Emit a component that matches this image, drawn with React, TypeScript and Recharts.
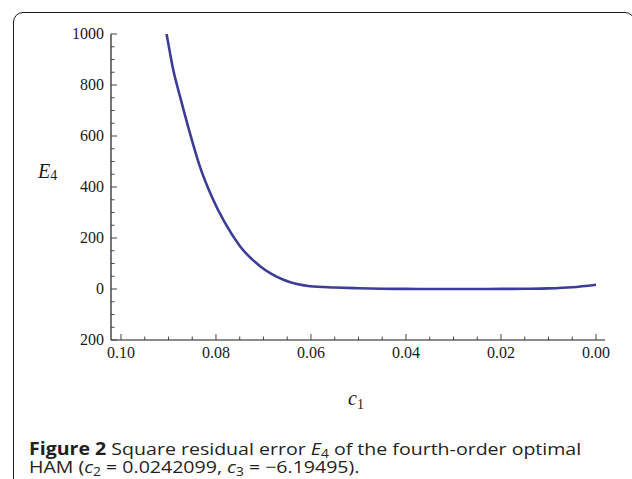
import React from 'react';
import { LineChart, Line, XAxis, YAxis } from 'recharts';

// c1 values (the picture's axis shows them without minus signs)
const c1Values = [-0.0925, -0.0904, -0.0897, -0.089, -0.0881, -0.0872, -0.0855, -0.0834, -0.0809, -0.0781, -0.0749, -0.0707, -0.0658, -0.0602, -0.055, -0.05, -0.045, -0.04, -0.035, -0.03, -0.025, -0.02, -0.015, -0.01, -0.005, 0.0];
const e4Values = [1230, 1000, 928, 860, 792, 729, 612, 481, 363, 259, 167, 89, 36, 11, 6, 3, 1, 0.3, 0, 0, 0, 0.3, 1, 2.5, 7, 17];

const xMajorTicks = [-0.1, -0.08, -0.06, -0.04, -0.02, 0.0];
const xTickLabels = ['0.10', '0.08', '0.06', '0.04', '0.02', '0.00'];
const xMinorTicks = [-0.1, -0.095, -0.09, -0.085, -0.08, -0.075, -0.07, -0.065, -0.06, -0.055, -0.05, -0.045, -0.04, -0.035, -0.03, -0.025, -0.02, -0.015, -0.01, -0.005, 0.0];

const yMajorTicks = [-200, 0, 200, 400, 600, 800, 1000];
const yTickLabels = ['200', '0', '200', '400', '600', '800', '1000'];
const yMinorTicks = [-200, -150, -100, -50, 0, 50, 100, 150, 200, 250, 300, 350, 400, 450, 500, 550, 600, 650, 700, 750, 800, 850, 900, 950, 1000];

const data = c1Values.map((c, i) => ({ c1: c, e4: e4Values[i] }));

const X_DOMAIN: [number, number] = [-0.1021, 0.0019];
const Y_DOMAIN: [number, number] = [-200, 1000];

const MAJOR = 6;
const MINOR = 3.5;
const TICK_COLOR = '#444';
const FRAME_COLOR = '#1a1a1a';
const FONT = '"Liberation Serif", "Times New Roman", serif';

const majorIndex = (list: number[], v: number) => list.findIndex((t) => Math.abs(t - v) < 1e-9);

const BottomTick = (props: any) => {
  const { x, y, payload } = props;
  const idx = majorIndex(xMajorTicks, payload.value);
  const len = idx >= 0 ? MAJOR : MINOR;
  return (
    <g>
      <line x1={x} x2={x} y1={y} y2={y - len} stroke={TICK_COLOR} strokeWidth={1} />
      {idx >= 0 && (
        <text x={x} y={y + 18} textAnchor="middle" fontFamily={FONT} fontSize={16} fill="#1a1a1a">
          {xTickLabels[idx]}
        </text>
      )}
    </g>
  );
};

const TopTick = (props: any) => {
  const { x, y, payload } = props;
  const idx = majorIndex(xMajorTicks, payload.value);
  const len = idx >= 0 ? MAJOR : MINOR;
  return <line x1={x} x2={x} y1={y} y2={y + len} stroke={TICK_COLOR} strokeWidth={1} />;
};

const LeftTick = (props: any) => {
  const { x, y, payload } = props;
  const idx = majorIndex(yMajorTicks, payload.value);
  const len = idx >= 0 ? MAJOR : MINOR;
  return (
    <g>
      <line x1={x} x2={x + len} y1={y} y2={y} stroke={TICK_COLOR} strokeWidth={1} />
      {idx >= 0 && (
        <text x={x - 7} y={y + 5} textAnchor="end" fontFamily={FONT} fontSize={16} fill="#1a1a1a">
          {yTickLabels[idx]}
        </text>
      )}
    </g>
  );
};

const RightTick = (props: any) => {
  const { x, y, payload } = props;
  const idx = majorIndex(yMajorTicks, payload.value);
  const len = idx >= 0 ? MAJOR : MINOR;
  return <line x1={x} x2={x - len} y1={y} y2={y} stroke={TICK_COLOR} strokeWidth={1} />;
};

const subStyle: React.CSSProperties = { fontSize: 12, verticalAlign: '-3px', lineHeight: 0 };

export default function App() {
  return (
    <div style={{ position: 'absolute', left: 0, top: 0, width: 632, height: 479, background: '#fff', overflow: 'hidden' }}>
      <div
        style={{
          position: 'absolute',
          left: 13,
          top: 12,
          width: 622,
          height: 520,
          border: `1.6px solid ${FRAME_COLOR}`,
          borderRadius: 10,
          boxSizing: 'border-box',
        }}
      />
      <LineChart
        width={632}
        height={479}
        data={data}
        margin={{ top: 34, right: 27, bottom: 109, left: 51 }}
        style={{ position: 'absolute', left: 0, top: 0 }}
      >
        <XAxis
          xAxisId="b"
          dataKey="c1"
          type="number"
          domain={X_DOMAIN}
          allowDataOverflow
          ticks={xMinorTicks}
          interval={0}
          tick={(p: any) => <BottomTick {...p} />}
          tickLine={false}
          tickSize={0}
          tickMargin={0}
          height={30}
          axisLine={{ stroke: FRAME_COLOR, strokeWidth: 1.2 }}
        />
        <XAxis
          xAxisId="t"
          orientation="top"
          dataKey="c1"
          type="number"
          domain={X_DOMAIN}
          allowDataOverflow
          ticks={xMinorTicks}
          interval={0}
          tick={(p: any) => <TopTick {...p} />}
          tickLine={false}
          tickSize={0}
          tickMargin={0}
          height={0}
          axisLine={{ stroke: FRAME_COLOR, strokeWidth: 1.2 }}
        />
        <YAxis
          yAxisId="l"
          type="number"
          domain={Y_DOMAIN}
          allowDataOverflow
          ticks={yMinorTicks}
          interval={0}
          tick={(p: any) => <LeftTick {...p} />}
          tickLine={false}
          tickSize={0}
          tickMargin={0}
          width={60}
          axisLine={{ stroke: FRAME_COLOR, strokeWidth: 1.2 }}
        />
        <YAxis
          yAxisId="r"
          orientation="right"
          type="number"
          domain={Y_DOMAIN}
          allowDataOverflow
          ticks={yMinorTicks}
          interval={0}
          tick={(p: any) => <RightTick {...p} />}
          tickLine={false}
          tickSize={0}
          tickMargin={0}
          width={0}
          axisLine={{ stroke: FRAME_COLOR, strokeWidth: 1.2 }}
        />
        <Line
          xAxisId="b"
          yAxisId="l"
          dataKey="e4"
          type="monotone"
          stroke="#3d3d99"
          strokeWidth={2.6}
          dot={false}
          isAnimationActive={false}
        />
      </LineChart>
      <svg width={632} height={479} style={{ position: 'absolute', left: 0, top: 0, pointerEvents: 'none' }}>
        <text x={38} y={178} fontFamily={FONT} fontSize={20} fill="#1a1a1a">
          <tspan fontStyle="italic">E</tspan>
          <tspan fontSize={14} dy={2}>4</tspan>
        </text>
        <text x={348} y={405} fontFamily={FONT} fontSize={20} fill="#1a1a1a">
          <tspan fontStyle="italic">c</tspan>
          <tspan fontSize={14} dy={4}>1</tspan>
        </text>
      </svg>
      <div
        style={{
          position: 'absolute',
          left: 29,
          top: 440,
          width: 540,
          fontFamily: '"Open Sans", "Noto Sans", sans-serif',
          fontSize: 17,
          lineHeight: '18px',
          color: '#231f20',
          whiteSpace: 'nowrap',
          transform: 'scaleX(1.15)',
          transformOrigin: '0 0',
        }}
      >
        <div>
          <b>Figure 2</b> Square residual error <i>E</i>
          <sub style={subStyle}>4</sub> of the fourth-order optimal
        </div>
        <div>
          HAM (<i>c</i>
          <sub style={subStyle}>2</sub> = 0.0242099, <i>c</i>
          <sub style={subStyle}>3</sub> = −6.19495).
        </div>
      </div>
    </div>
  );
}
